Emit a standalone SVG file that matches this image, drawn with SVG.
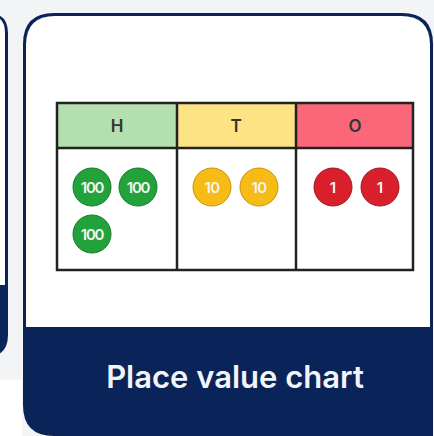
<svg xmlns="http://www.w3.org/2000/svg" width="434" height="436" viewBox="0 0 434 436">
  <style>
    .hdr { font-family: Inter, "Open Sans", sans-serif; font-size: 17px; font-weight: 600; fill: #333; text-anchor: middle; }
    .cnt { font-family: Inter, "Open Sans", sans-serif; font-size: 15px; font-weight: 600; fill: #f4f4f4; text-anchor: middle; }
    .grid { fill: none; stroke: #222; stroke-width: 2.5; }
  </style>
  <defs>
    <symbol id="c100" overflow="visible"><circle r="19" fill="#22a23a" stroke="#17792a" stroke-width="1"/><text class="cnt" y="5.5" letter-spacing="-1.2">100</text></symbol>
    <symbol id="c10" overflow="visible"><circle r="19" fill="#f7bb15" stroke="#c8930c" stroke-width="1"/><text class="cnt" y="5.5" letter-spacing="-0.5">10</text></symbol>
    <symbol id="c1" overflow="visible"><circle r="19" fill="#d81f2b" stroke="#9e1620" stroke-width="1"/><text class="cnt" y="5.5">1</text></symbol>
  </defs>

  <!-- page background -->
  <rect width="434" height="436" fill="#f3f4f6"/>
  <rect x="0" y="380" width="22" height="56" fill="#ffffff"/>

  <!-- neighbouring card edge -->
  <g id="prev-card">
    <path d="M -40 13 L -12 13 Q 8 13 8 33 L 8 335 Q 8 357 -14 357 L -40 357 Z" fill="#0a2359"/>
    <path d="M -40 15 L -12 15 Q 5 15 5 33 L 5 285 L -40 285 Z" fill="#ffffff"/>
  </g>

  <!-- main card -->
  <g id="card">
    <path d="M 54 13 L 402 13 Q 433 13 433 44 L 433 436 L 54 436 Q 23 436 23 405 L 23 44 Q 23 13 54 13 Z" fill="#0a2359"/>
    <path d="M 55 16 L 401 16 Q 430 16 430 45 L 430 327 L 26 327 L 26 45 Q 26 16 55 16 Z" fill="#ffffff"/>
    <text x="235" y="388" font-family="Inter, 'Open Sans', sans-serif" font-size="31" font-weight="600" fill="#f2f4f8" text-anchor="middle">Place value chart</text>
  </g>

  <!-- place value table -->
  <g id="table">
    <rect x="57" y="103" width="120" height="45" fill="#b4dfae"/>
    <rect x="177" y="103" width="119" height="45" fill="#fde383"/>
    <rect x="296" y="103" width="117" height="45" fill="#fb6679"/>
    <rect class="grid" x="57" y="103" width="356" height="167"/>
    <line class="grid" x1="57" y1="148" x2="413" y2="148"/>
    <line class="grid" x1="177" y1="103" x2="177" y2="270"/>
    <line class="grid" x1="296" y1="103" x2="296" y2="270"/>
    <text class="hdr" x="117" y="132">H</text>
    <text class="hdr" x="236" y="132">T</text>
    <text class="hdr" x="355" y="132">O</text>
  </g>

  <g id="hundreds">
    <use href="#c100" x="92" y="187"/>
    <use href="#c100" x="138" y="187"/>
    <use href="#c100" x="92" y="234"/>
  </g>
  <g id="tens">
    <use href="#c10" x="212" y="187"/>
    <use href="#c10" x="259" y="187"/>
  </g>
  <g id="ones">
    <use href="#c1" x="333" y="187"/>
    <use href="#c1" x="380" y="187"/>
  </g>
</svg>
